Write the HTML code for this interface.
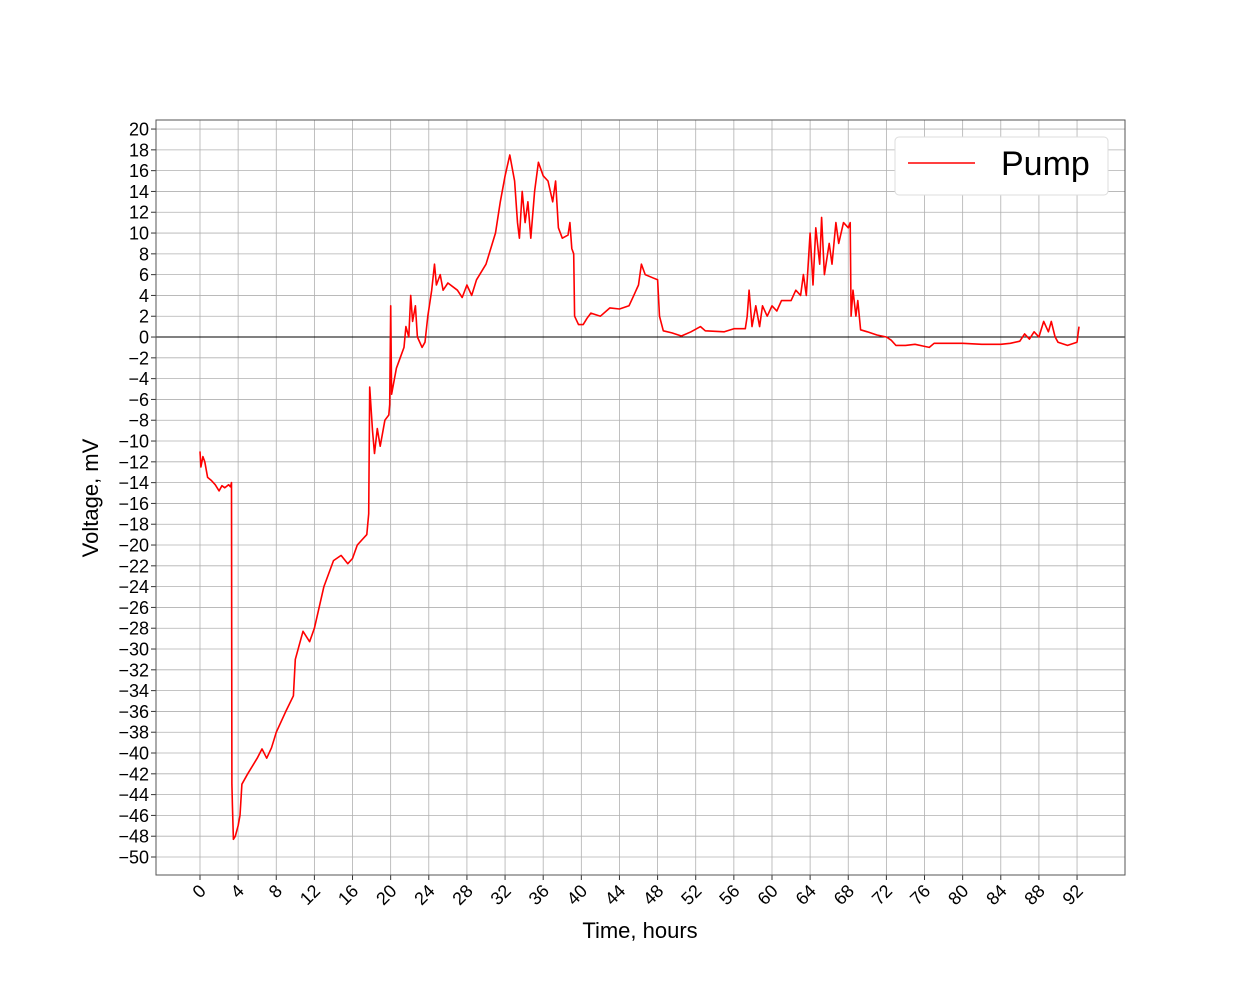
<!DOCTYPE html>
<html><head><meta charset="utf-8"><style>
body{margin:0;background:#fff;}
svg{display:block;font-family:"Liberation Sans","DejaVu Sans",sans-serif;}
</style></head><body>
<svg id="chart" width="1250" height="1000" viewBox="0 0 1250 1000">
<rect x="156" y="120" width="969" height="755" fill="#fff" stroke="none"/>
<g id="grid"></g>
<g id="ticks"></g>
<line id="zero" stroke="#000" stroke-width="1"/>
<polyline id="series" fill="none" stroke="#ff0000" stroke-width="1.6" stroke-linejoin="round"/>
<rect x="156" y="120" width="969" height="755" fill="none" stroke="#555" stroke-width="1"/>
<text x="98" y="498" font-size="22" text-anchor="middle" transform="rotate(-90 98 498)">Voltage, mV</text>
<text x="640" y="938" font-size="22" text-anchor="middle">Time, hours</text>
<g>
<rect x="895" y="137" width="213" height="58" rx="4" fill="#fff" stroke="#ddd"/>
<line x1="908" y1="163" x2="975" y2="163" stroke="#ff0000" stroke-width="1.6"/>
<text x="1001" y="175" font-size="34">Pump</text>
</g>
</svg>
<script>
const hours=[0,0.1,0.3,0.5,0.8,1.2,1.6,2,2.3,2.6,3,3.2,3.3,3.35,3.4,3.5,3.7,4,4.2,4.4,5,6,6.5,7,7.5,8,9,9.8,10,10.8,11.5,12,13,14,14.8,15.5,16,16.5,17.5,17.7,17.8,18.1,18.3,18.6,18.9,19.4,19.8,19.9,20,20.1,20.6,21,21.4,21.6,21.9,22.1,22.3,22.6,22.8,23.3,23.6,23.9,24.3,24.6,24.8,25.2,25.5,26,27,27.5,28,28.5,29,30,31,31.5,32,32.5,33,33.3,33.5,33.8,34.1,34.4,34.7,35.1,35.5,36,36.5,37,37.3,37.6,38,38.6,38.8,39,39.2,39.3,39.7,40.2,40.6,41,42,43,44,45,45.5,46,46.3,46.7,47.5,48,48.2,48.6,49.5,50.5,51.5,52.5,53,55,56,57.2,57.4,57.6,57.9,58.3,58.7,59,59.5,60,60.5,61,62,62.5,63,63.3,63.6,64,64.3,64.6,65,65.2,65.5,66,66.3,66.7,67,67.5,68,68.2,68.3,68.5,68.8,69,69.3,70,71,72,72.5,73,74,75,76,76.5,77,78,80,82,84,85,86,86.5,87,87.5,88,88.5,89,89.3,89.7,90,91,92,92.2];
const voltage=[-11,-12.5,-11.5,-12,-13.5,-13.8,-14.2,-14.8,-14.3,-14.5,-14.2,-14.4,-14,-43,-45,-48.3,-48,-47,-46,-43,-42,-40.5,-39.6,-40.5,-39.5,-38,-36,-34.5,-31,-28.3,-29.3,-28,-24,-21.5,-21,-21.8,-21.3,-20,-19,-17,-4.8,-9,-11.2,-8.8,-10.5,-8,-7.5,-6.5,3,-5.5,-3,-2,-1,1,0,4,1.5,3,0,-1,-0.5,2,4.5,7,5,6,4.5,5.2,4.5,3.8,5,4,5.5,7,10,13,15.5,17.5,15,11,9.5,14,11,13,9.5,14,16.8,15.5,15,13,15,10.5,9.5,9.8,11,8.5,8,2,1.2,1.2,1.8,2.3,2,2.8,2.7,3,4,5,7,6,5.7,5.5,2,0.6,0.4,0.1,0.5,1,0.6,0.5,0.8,0.8,2,4.5,1,3,1,3,2,3,2.5,3.5,3.5,4.5,4,6,4,10,5,10.5,7,11.5,6,9,7,11,9,11,10.5,11,2,4.5,2,3.5,0.7,0.5,0.2,0,-0.3,-0.8,-0.8,-0.7,-0.9,-1,-0.6,-0.6,-0.6,-0.7,-0.7,-0.6,-0.4,0.3,-0.2,0.5,0,1.5,0.5,1.5,0,-0.5,-0.8,-0.5,1];
const xTickLabels=[0,4,8,12,16,20,24,28,32,36,40,44,48,52,56,60,64,68,72,76,80,84,88,92];
const yTickLabels=[20,18,16,14,12,10,8,6,4,2,0,-2,-4,-6,-8,-10,-12,-14,-16,-18,-20,-22,-24,-26,-28,-30,-32,-34,-36,-38,-40,-42,-44,-46,-48,-50];

const X0=156,X1=1125,Y0=120,Y1=875;
const xMin=-4.615,xMax=97.03,yMin=-51.73,yMax=20.87;
function xs(v){return X0+(v-xMin)/(xMax-xMin)*(X1-X0);}
function ys(v){return Y1-(v-yMin)/(yMax-yMin)*(Y1-Y0);}
const NS="http://www.w3.org/2000/svg";
const grid=document.getElementById('grid'),ticks=document.getElementById('ticks');
function mk(tag,attrs,parent){const e=document.createElementNS(NS,tag);for(const k in attrs)e.setAttribute(k,attrs[k]);parent.appendChild(e);return e;}
xTickLabels.forEach(v=>{
  const x=xs(v);
  const g=mk('line',{x1:x,x2:x,y1:Y0,y2:Y1,stroke:'#b0b0b0','stroke-width':0.8},grid);
  
  
  const t=mk('line',{x1:x,x2:x,y1:Y1,y2:Y1+5,stroke:'#333','stroke-width':1},ticks);
  
  
  const tx=mk('text',{x:x+7,y:Y1+17,'font-size':18,'text-anchor':'end',transform:`rotate(-45 ${x+7} ${Y1+17})`},ticks);
  tx.textContent=v;
  
  
});
yTickLabels.forEach(v=>{
  const y=ys(v);
  const g=mk('line',{x1:X0,x2:X1,y1:y,y2:y,stroke:'#b0b0b0','stroke-width':0.8},grid);
  
  
  const t=mk('line',{x1:X0-5,x2:X0,y1:y,y2:y,stroke:'#333','stroke-width':1},ticks);
  
  
  const tx=mk('text',{x:X0-7,y:y+6.5,'font-size':18,'text-anchor':'end'},ticks);
  tx.textContent=String(v).replace('-','\u2212');
  
  
});
const z=document.getElementById('zero');
z.setAttribute('x1',X0);z.setAttribute('x2',X1);z.setAttribute('y1',ys(0));z.setAttribute('y2',ys(0));
document.getElementById('series').setAttribute('points',hours.map((h,i)=>xs(h).toFixed(1)+','+ys(voltage[i]).toFixed(1)).join(' '));
</script>
</body></html>
